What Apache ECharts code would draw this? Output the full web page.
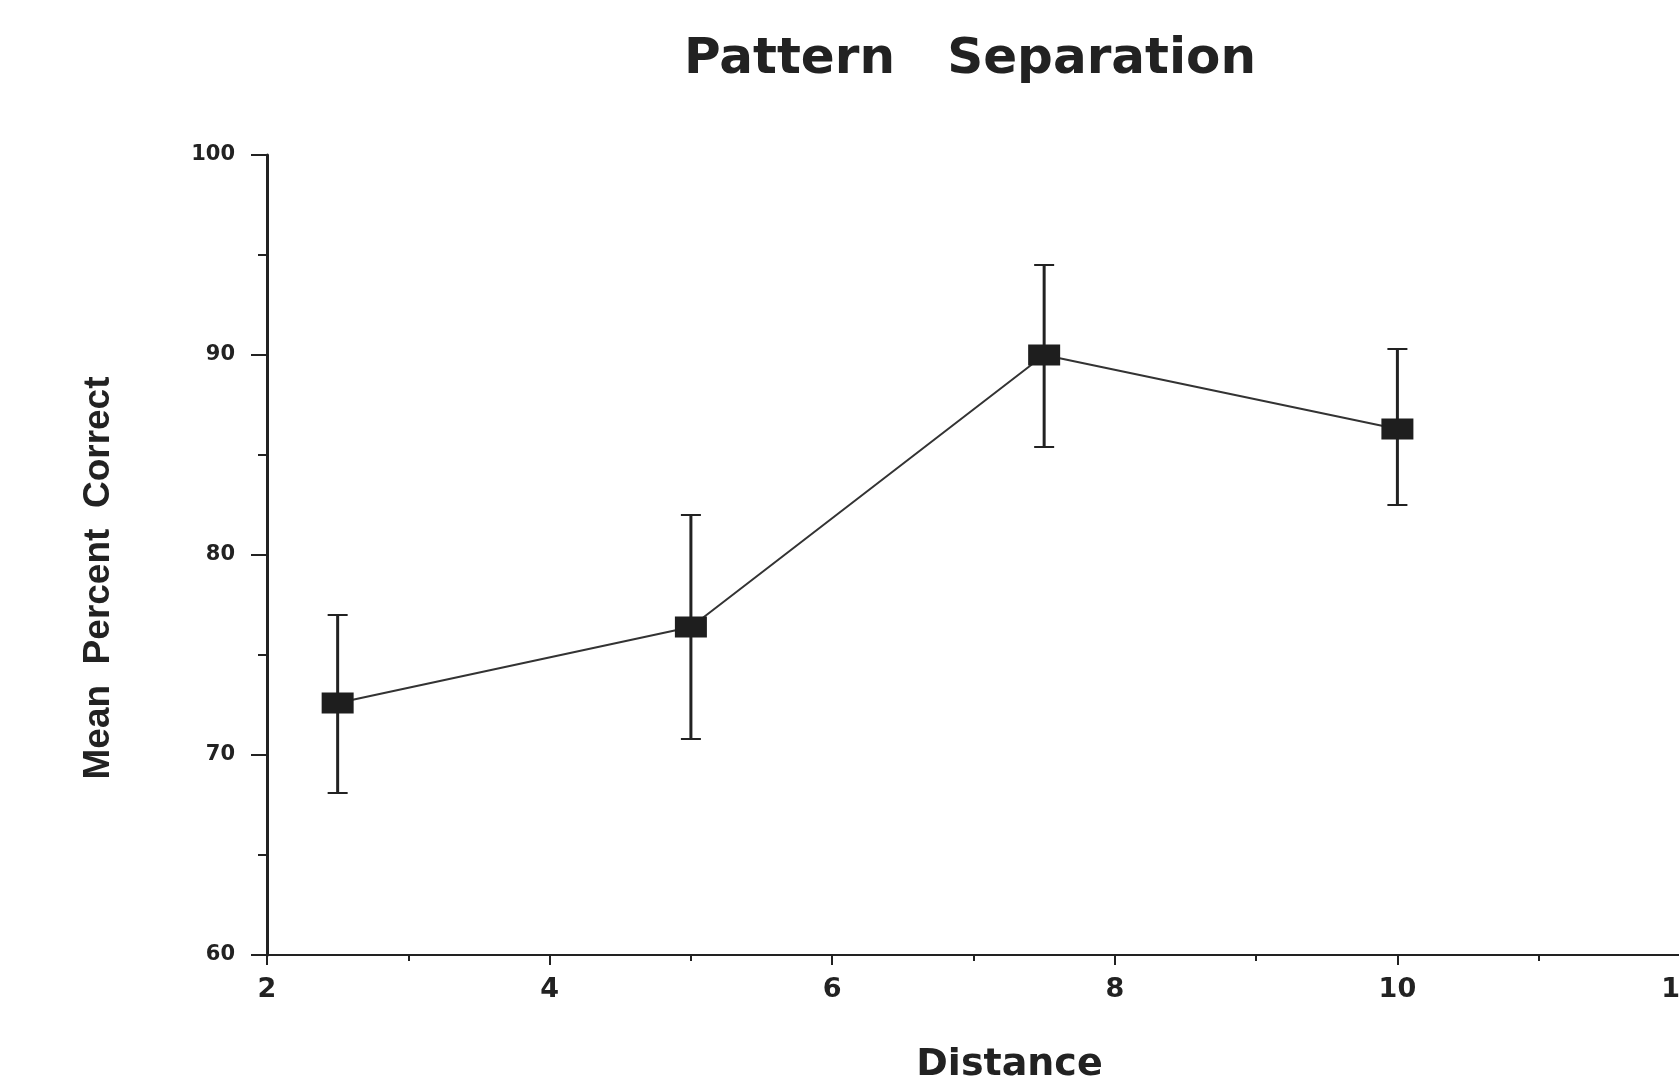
<!DOCTYPE html>
<html>
<head>
<meta charset="utf-8">
<title>Pattern Separation</title>
<script src="https://cdn.jsdelivr.net/npm/echarts@6/dist/echarts.min.js"></script>
<style>
  html, body { margin: 0; padding: 0; background: #fff; }
  #chart { width: 1679px; height: 1084px; }
</style>
</head>
<body>
<div id="chart"></div>
<script>
// values
var distance = [2.5, 5, 7.5, 10]
var meanCorrect = [72.6, 76.4, 90.0, 86.3]
var errUpper = [77.0, 82.0, 94.5, 90.3]
var errLower = [68.1, 70.8, 85.4, 82.5]

var ink = '#222'
var boldFont = '"DejaVu Sans", "Liberation Sans", sans-serif'

var chart = echarts.init(document.getElementById('chart'))

chart.setOption({
  animation: false,
  backgroundColor: '#fff',
  title: {
    text: 'Pattern   Separation',
    left: 965,
    top: 30,
    textAlign: 'center',
    textStyle: {
      fontFamily: boldFont,
      fontWeight: 'bold',
      fontSize: 50,
      color: ink
    }
  },
  grid: {
    left: 267,
    top: 155,
    width: 1413,
    bottom: 129,
    outerBoundsMode: 'none',
    containLabel: false
  },
  xAxis: {
    type: 'value',
    min: 2,
    max: 12,
    interval: 2,
    name: 'Distance',
    nameLocation: 'middle',
    nameGap: 91,
    nameTextStyle: {
      fontFamily: boldFont,
      fontWeight: 'bold',
      fontSize: 38,
      color: ink,
      padding: [0, 0, 0, 72]
    },
    axisLine: { lineStyle: { color: ink, width: 2 } },
    axisTick: { inside: false, length: 10, lineStyle: { color: ink, width: 2 } },
    minorTick: { show: true, splitNumber: 2, length: 6, lineStyle: { color: ink, width: 2 } },
    axisLabel: {
      margin: 21,
      fontFamily: boldFont,
      fontWeight: 'bold',
      fontSize: 27,
      color: ink
    },
    splitLine: { show: false }
  },
  yAxis: {
    type: 'value',
    min: 60,
    max: 100,
    interval: 10,
    name: 'Mean  Percent  Correct',
    nameLocation: 'middle',
    nameGap: 150,
    nameRotate: 90,
    nameTextStyle: {
      fontFamily: '"Liberation Sans", Arial, sans-serif',
      fontWeight: 'bold',
      fontSize: 37,
      color: ink,
      padding: [0, 46, 0, 0]
    },
    axisLine: { lineStyle: { color: ink, width: 3 } },
    axisTick: { inside: false, length: 16, lineStyle: { color: ink, width: 2 } },
    minorTick: { show: true, splitNumber: 2, length: 9, lineStyle: { color: ink, width: 2 } },
    axisLabel: {
      margin: 32,
      fontFamily: boldFont,
      fontWeight: 'bold',
      fontSize: 21,
      color: ink
    },
    splitLine: { show: false }
  },
  series: [
    {
      type: 'custom',
      name: 'error',
      z: 1,
      data: distance.map(function (d, i) { return [d, errUpper[i], errLower[i]] }),
      renderItem: function (params, api) {
        var x = api.value(0)
        var top = api.coord([x, api.value(1)])
        var bot = api.coord([x, api.value(2)])
        var half = 10
        return {
          type: 'group',
          children: [
            { type: 'line', shape: { x1: top[0], y1: top[1], x2: bot[0], y2: bot[1] }, style: { stroke: ink, lineWidth: 3 } },
            { type: 'line', shape: { x1: top[0] - half, y1: top[1], x2: top[0] + half, y2: top[1] }, style: { stroke: ink, lineWidth: 2 } },
            { type: 'line', shape: { x1: bot[0] - half, y1: bot[1], x2: bot[0] + half, y2: bot[1] }, style: { stroke: ink, lineWidth: 2 } }
          ]
        }
      }
    },
    {
      type: 'line',
      name: 'mean',
      z: 3,
      data: distance.map(function (d, i) { return [d, meanCorrect[i]] }),
      symbol: 'rect',
      symbolSize: [32, 21],
      lineStyle: { color: '#333', width: 2 },
      itemStyle: { color: '#1e1e1e' }
    }
  ]
})
</script>
</body>
</html>
